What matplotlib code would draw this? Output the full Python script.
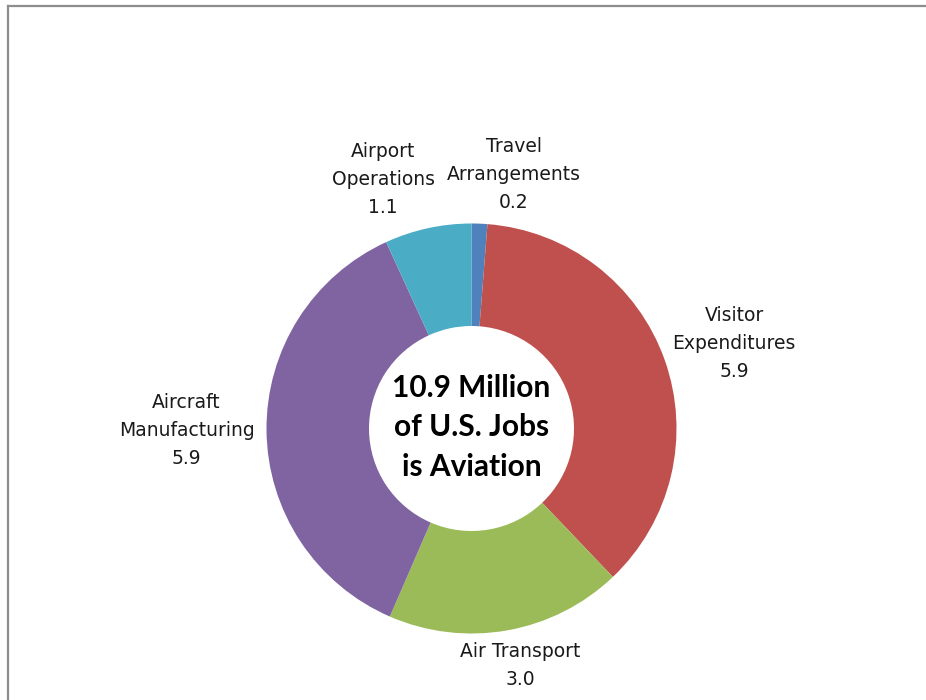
import matplotlib
matplotlib.use("Agg")
import matplotlib.pyplot as plt
import numpy as np
from matplotlib.lines import Line2D

# empleos ligados a la aviación en EE. UU. (millones), en el orden del anillo
categorias = [
    "Travel\nArrangements",
    "Visitor\nExpenditures",
    "Air Transport",
    "Aircraft\nManufacturing",
    "Airport\nOperations",
]
valores = [0.2, 5.9, 3.0, 5.9, 1.1]
colores = ["#4F81BD", "#C0504D", "#9BBB59", "#8064A2", "#4BACC6"]
texto_central = "10.9 Million\nof U.S. Jobs\nis Aviation"

# figura en píxeles: 926 x 700
fig = plt.figure(figsize=(9.26, 7.0), dpi=100)
ax = fig.add_axes([0, 0, 1, 1])

centro = (471.5, 700 - 428.5)
radio = 205

wedges, _ = ax.pie(
    valores,
    colors=colores,
    startangle=90,
    counterclock=False,
    radius=radio,
    center=centro,
    wedgeprops=dict(width=radio * 0.5, linewidth=0),
)
ax.set_xlim(0, 926)
ax.set_ylim(0, 700)
ax.set_aspect("auto")
ax.axis("off")

# texto del centro del anillo
ax.text(centro[0], centro[1] + 1, texto_central, ha="center", va="center",
        family="Lato", fontweight="bold", fontsize=21.5, linespacing=1.5,
        color="black")

# etiquetas fuera del anillo: nombre + valor
renderer = fig.canvas.get_renderer()
separacion = 12
etiquetas = []
for w, nombre, v in zip(wedges, categorias, valores):
    ang = np.deg2rad((w.theta1 + w.theta2) / 2)
    dx, dy = np.cos(ang), np.sin(ang)
    t = ax.text(0, 0, f"{nombre}\n{v:.1f}", ha="center", va="center",
                multialignment="center", family="DejaVu Sans", fontsize=13.5,
                linespacing=1.6, color="#1a1a1a")
    bb = t.get_window_extent(renderer)
    x = centro[0] + dx * (radio + separacion) + dx * bb.width / 2
    y = centro[1] + dy * (radio + separacion) + dy * bb.height / 2
    etiquetas.append([t, x, y, bb.width, bb.height])

# separar en horizontal las etiquetas que se pisan
for _ in range(20):
    for i in range(len(etiquetas)):
        for j in range(i + 1, len(etiquetas)):
            a, b = etiquetas[i], etiquetas[j]
            sx = (a[3] + b[3]) / 2 + 12 - abs(a[1] - b[1])
            sy = (a[4] + b[4]) / 2 - abs(a[2] - b[2])
            if sx > 0 and sy > 0:
                signo = 1 if a[1] >= b[1] else -1
                a[1] += signo * sx / 2
                b[1] -= signo * sx / 2

for t, x, y, _, _ in etiquetas:
    t.set_position((x, y))

# marco gris del área del gráfico
gris = "#8e8e8e"
fig.add_artist(Line2D([8 / 926, 1], [1 - 6 / 700, 1 - 6 / 700],
                      transform=fig.transFigure, color=gris, lw=1.6))
fig.add_artist(Line2D([8 / 926, 8 / 926], [0, 1 - 6 / 700],
                      transform=fig.transFigure, color=gris, lw=1.6))

fig.savefig("out.png", dpi=100, facecolor="white")
